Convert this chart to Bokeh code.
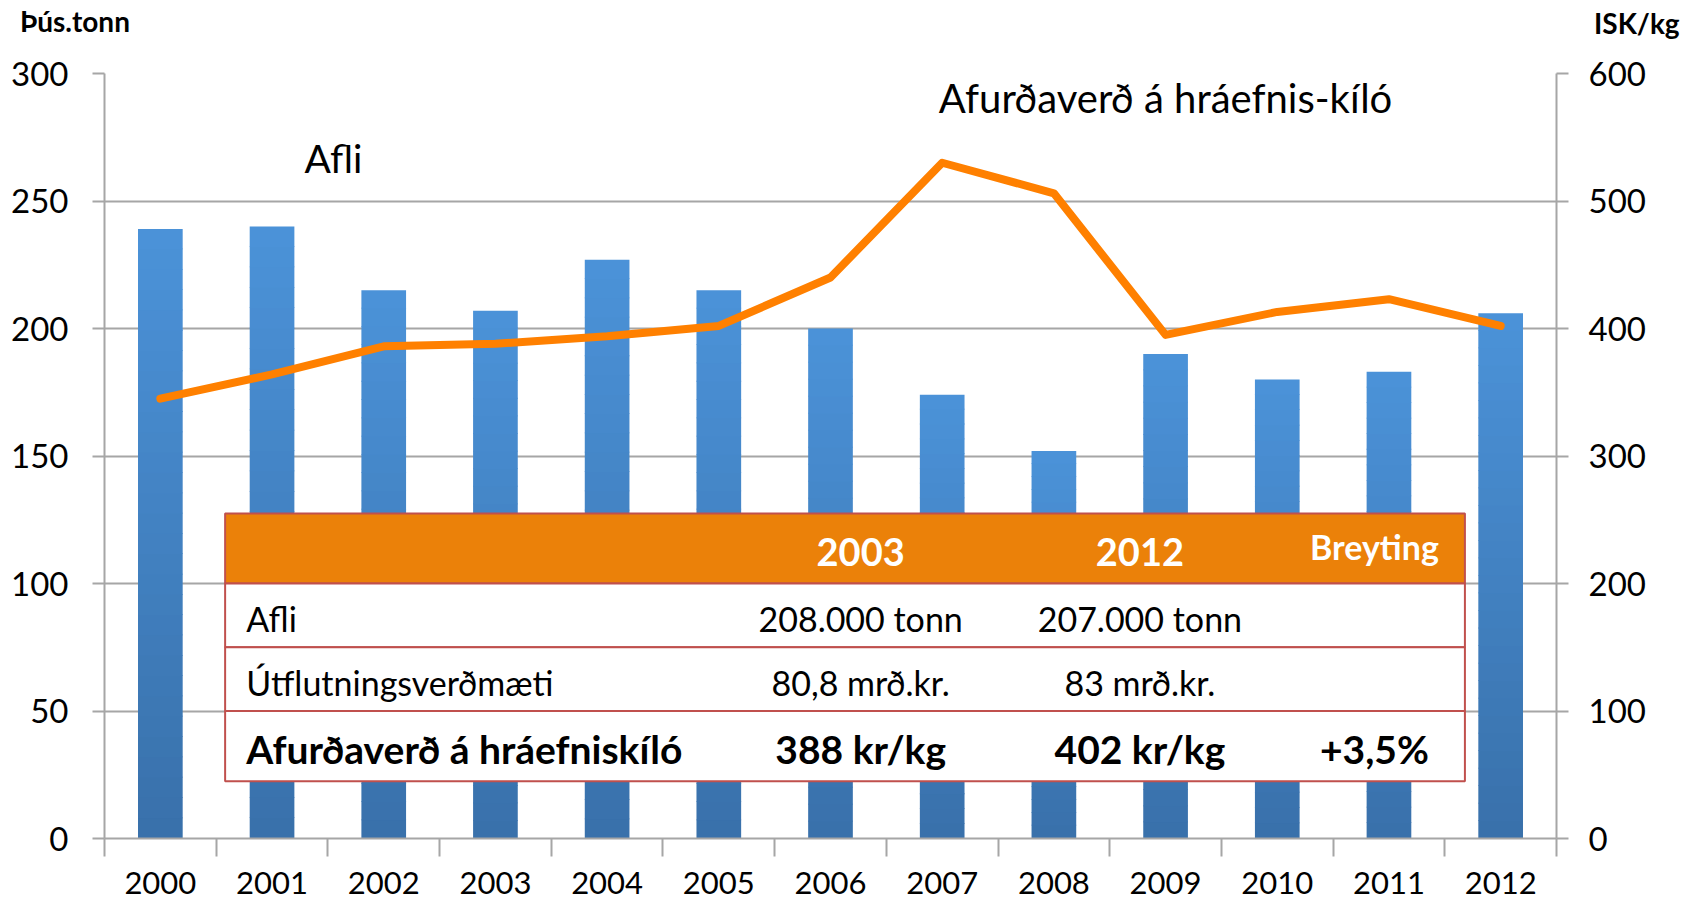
from bokeh.plotting import figure
from bokeh.models import Range1d, LinearAxis, FixedTicker, Div
from bokeh.layouts import column
from bokeh.core.properties import value
from bokeh.embed import file_html
from bokeh.resources import INLINE

# ---------------- data ----------------
years = [2000, 2001, 2002, 2003, 2004, 2005, 2006, 2007, 2008, 2009, 2010, 2011, 2012]
afli = [239, 240, 215, 207, 227, 215, 200, 174, 152, 190, 180, 183, 206]          # þús. tonn
verd = [345, 364, 386, 388, 394, 402, 440, 530, 506, 395, 413, 423, 402]          # ISK/kg

left_ticks = [0, 50, 100, 150, 200, 250, 300]
right_ticks = [0, 100, 200, 300, 400, 500, 600]

left_title = "Þús.tonn"
right_title = "ISK/kg"
bar_label = "Afli"
line_label = "Afurðaverð á hráefnis-kíló"

table_header = ["", "2003", "2012", "Breyting"]
table_rows = [
    ["Afli", "208.000 tonn", "207.000 tonn", ""],
    ["Útflutningsverðmæti", "80,8 mrð.kr.", "83 mrð.kr.", ""],
    ["Afurðaverð á hráefniskíló", "388 kr/kg", "402 kr/kg", "+3,5%"],
]

FONT = "Lato"
GRID = "#a6a6a6"
DIV_H = 46
W, H = 1694, 902 - DIV_H

p = figure(width=W, height=H, output_backend="svg", toolbar_location=None,
           x_range=Range1d(1999.5, 2012.5), y_range=Range1d(0, 300),
           min_border_left=104, min_border_right=138, min_border_top=73 - DIV_H,
           min_border_bottom=64, x_axis_location=None, y_axis_location=None,
           margin=0)
p.outline_line_color = None
p.background_fill_color = "white"
p.border_fill_color = "white"
p.extra_y_ranges = {"price": Range1d(0, 600)}

# ---------------- axes ----------------
xaxis = LinearAxis(ticker=FixedTicker(ticks=years,
                                      minor_ticks=[y - 0.5 for y in years] + [years[-1] + 0.5]))
xaxis.major_label_overrides = {y: str(y) for y in years}
xaxis.major_tick_out = 0
xaxis.major_tick_in = 0
xaxis.minor_tick_out = 18
xaxis.minor_tick_in = 0
xaxis.minor_tick_line_color = GRID
xaxis.minor_tick_line_width = 2
xaxis.axis_line_color = GRID
xaxis.axis_line_width = 2
xaxis.major_label_standoff = 15
xaxis.major_label_text_font = FONT
xaxis.major_label_text_font_size = "31px"
xaxis.major_label_text_color = "black"
p.add_layout(xaxis, "below")

yaxis = LinearAxis(ticker=FixedTicker(ticks=left_ticks))
yaxis.major_tick_out = 12
yaxis.major_tick_in = 0
yaxis.minor_tick_out = 0
yaxis.minor_tick_in = 0
yaxis.major_tick_line_color = GRID
yaxis.major_tick_line_width = 2
yaxis.axis_line_color = GRID
yaxis.axis_line_width = 2
yaxis.major_label_standoff = 24
yaxis.major_label_text_font = FONT
yaxis.major_label_text_font_size = "33px"
yaxis.major_label_text_color = "black"
p.add_layout(yaxis, "left")

yaxis2 = LinearAxis(y_range_name="price", ticker=FixedTicker(ticks=right_ticks))
yaxis2.major_tick_out = 12
yaxis2.major_tick_in = 0
yaxis2.minor_tick_out = 0
yaxis2.minor_tick_in = 0
yaxis2.major_tick_line_color = GRID
yaxis2.major_tick_line_width = 2
yaxis2.axis_line_color = GRID
yaxis2.axis_line_width = 2
yaxis2.major_label_standoff = 20
yaxis2.major_label_text_font = FONT
yaxis2.major_label_text_font_size = "33px"
yaxis2.major_label_text_color = "black"
p.add_layout(yaxis2, "right")

p.xgrid.visible = False
p.ygrid.ticker = FixedTicker(ticks=left_ticks)
p.ygrid.grid_line_color = GRID
p.ygrid.grid_line_width = 2

# ---------------- bars (vertical gradient per bar) ----------------
N = 30
top_c = (0x4B, 0x92, 0xD8)
bot_c = (0x39, 0x71, 0xAB)
xs, bottoms, tops, colors = [], [], [], []
for yr, v in zip(years, afli):
    for i in range(N):
        f = i / (N - 1)
        c = tuple(int(round(bot_c[k] + (top_c[k] - bot_c[k]) * f)) for k in range(3))
        xs.append(yr)
        bottoms.append(v * i / N)
        tops.append(v * (i + 1) / N + (0.3 if i < N - 1 else 0))
        colors.append("#%02x%02x%02x" % c)
p.vbar(x=xs, bottom=bottoms, top=tops, width=0.4, fill_color=colors, line_color=None)

# ---------------- price line ----------------
p.line(years, verd, y_range_name="price", line_color="#FF8000", line_width=8,
       line_join="round", line_cap="round")

# ---------------- table overlay ----------------
t_left, t_right = 2000.58, 2011.68
row_edges = [127.5, 100, 75, 50, 22.5]
col_centers = [2000.77, 2006.27, 2008.77, 2010.87]
p.quad(left=[t_left], right=[t_right], top=[row_edges[0]], bottom=[row_edges[1]],
       fill_color="#EB8109", line_color="#C0504D", line_width=2)
p.quad(left=[t_left] * 3, right=[t_right] * 3, top=row_edges[1:4], bottom=row_edges[2:5],
       fill_color="white", line_color="#C0504D", line_width=2)

hdr_y = (row_edges[0] + row_edges[1]) / 2
p.text(x=[col_centers[1], col_centers[2]], y=[hdr_y - 1.3, hdr_y - 1.3],
       text=[table_header[1], table_header[2]], text_font=value(FONT),
       text_font_style="bold", text_font_size="38px", text_color="white",
       text_align="center", text_baseline="middle")
p.text(x=[col_centers[3]], y=[hdr_y + 0.8], text=[table_header[3]], text_font=value(FONT),
       text_font_style="bold", text_font_size="34px", text_color="white",
       text_align="center", text_baseline="middle")

for r, row in enumerate(table_rows):
    cy = (row_edges[r + 1] + row_edges[r + 2]) / 2 - 1.2
    bold = (r == 2)
    size = "39px" if bold else "34px"
    style = "bold" if bold else "normal"
    p.text(x=[col_centers[0]], y=[cy], text=[row[0]], text_font=value(FONT),
           text_font_style=style, text_font_size=size, text_color="black",
           text_align="left", text_baseline="middle")
    p.text(x=[col_centers[1], col_centers[2]], y=[cy, cy], text=[row[1], row[2]],
           text_font=value(FONT), text_font_style=style, text_font_size=size,
           text_color="black", text_align="center", text_baseline="middle")
    if row[3]:
        p.text(x=[col_centers[3]], y=[cy], text=[row[3]], text_font=value(FONT),
               text_font_style=style, text_font_size=size, text_color="black",
               text_align="center", text_baseline="middle")

# ---------------- series labels ----------------
p.text(x=[2001.55], y=[266.7], text=[bar_label], text_font=value(FONT),
       text_font_size="39px", text_color="black", text_align="center", text_baseline="middle")
p.text(x=[2009.0], y=[290.2], text=[line_label], text_font=value(FONT),
       text_font_size="40px", text_color="black", text_align="center", text_baseline="middle")

# ---------------- axis titles (above the plot) ----------------
header = Div(
    text=('<div style="position:relative;width:%dpx;height:%dpx;font-family:Lato;'
          'font-weight:bold;font-size:28px;line-height:28px;color:black;">'
          '<span style="position:absolute;left:20px;top:7px;white-space:nowrap;">%s</span>'
          '<span style="position:absolute;left:1594px;top:9px;white-space:nowrap;">%s</span>'
          '</div>') % (W, DIV_H, left_title, right_title),
    width=W, height=DIV_H, margin=0)

layout = column(header, p, spacing=0, margin=0)
open("out.html", "w").write(file_html(layout, INLINE))
